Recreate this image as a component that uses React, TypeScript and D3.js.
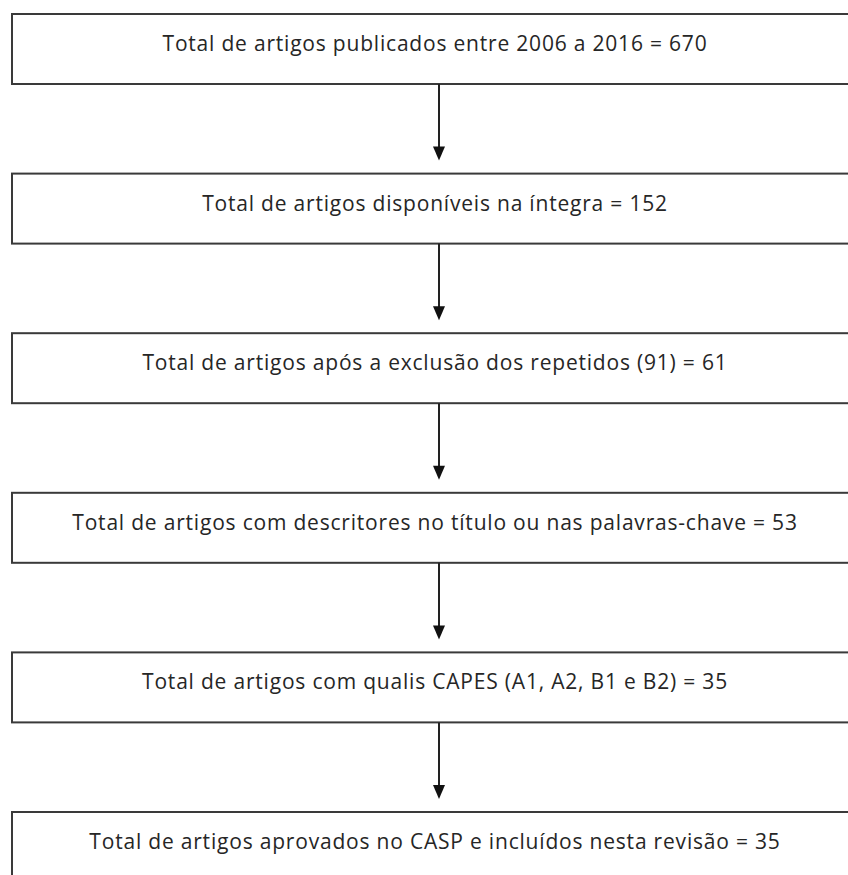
import React from "react";
import * as d3 from "d3";

const steps = [
  "Total de artigos publicados entre 2006 a 2016",
  "Total de artigos disponíveis na íntegra",
  "Total de artigos após a exclusão dos repetidos (91)",
  "Total de artigos com descritores no título ou nas palavras-chave",
  "Total de artigos com qualis CAPES (A1, A2, B1 e B2)",
  "Total de artigos aprovados no CASP e incluídos nesta revisão",
];
const counts = [670, 152, 61, 53, 35, 35];

const W = 848;
const H = 875;

export default function App() {
  const y = d3.scaleLinear().domain([0, steps.length - 1]).range([14, 812]);
  const boxH = 70;
  const x0 = 12;
  const x1 = 860;
  const cx = 435;
  const ax = 439;
  const stroke = "#3a3a3a";
  return (
    <div style={{ position: "absolute", left: 0, top: 0 }}>
      <svg width={W} height={H} style={{ display: "block", background: "#fff" }}>
        {steps.map((s, i) => {
          const top = y(i);
          return (
            <g key={i}>
              <rect x={x0} y={top} width={x1 - x0} height={boxH} fill="#fff" stroke={stroke} strokeWidth={2} />
              <text
                x={cx}
                y={top + 29}
                textAnchor="middle"
                dominantBaseline="central"
                fontFamily="'Open Sans', sans-serif"
                fontSize={21}
                letterSpacing={0.8}
                fill="#262626"
              >
                {`${s} = ${counts[i]}`}
              </text>
            </g>
          );
        })}
        {steps.slice(1).map((_, i) => {
          const start = y(i) + boxH;
          const end = y(i + 1) - 13;
          return (
            <g key={"a" + i}>
              <line x1={ax} x2={ax} y1={start} y2={end - 12} stroke="#222" strokeWidth={2} />
              <path d={`M${ax - 6},${end - 14} L${ax + 6},${end - 14} L${ax},${end} Z`} fill="#111" />
            </g>
          );
        })}
      </svg>
    </div>
  );
}
